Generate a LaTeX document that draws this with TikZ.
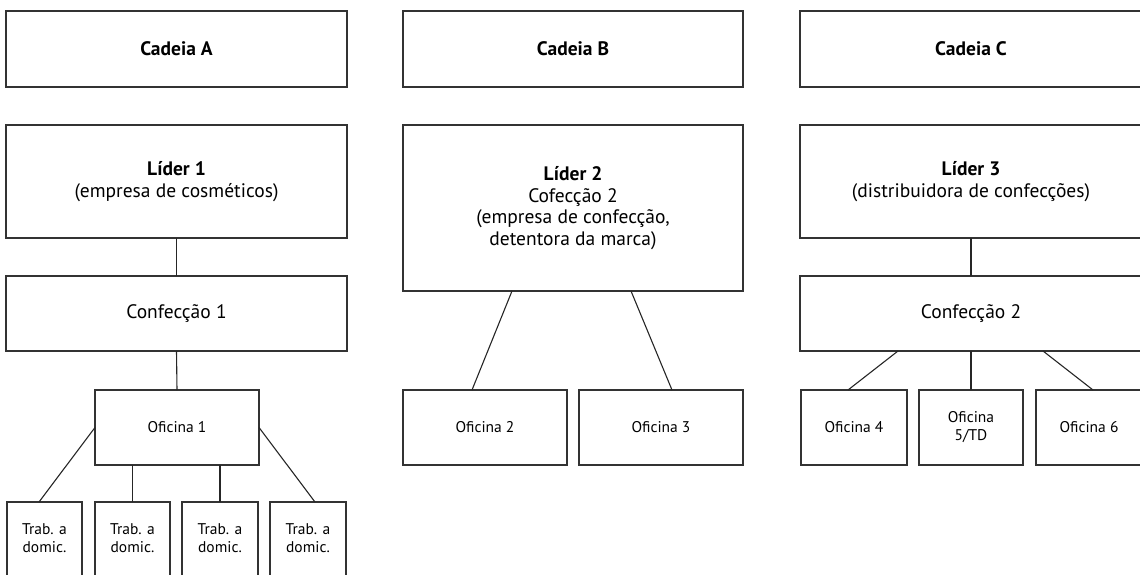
\documentclass[tikz,border=0pt]{standalone}
\usepackage{fontspec}
\setmainfont{PT Sans}
\begin{document}
\begin{tikzpicture}[x=1pt,y=-1pt,
  every node/.style={inner sep=0pt, outer sep=0pt},
  box/.style={draw=black!80, line width=1.3pt, rectangle, align=center,
    font=\fontsize{19.5}{21.5}\selectfont},
  sbox/.style={draw=black!80, line width=1.3pt, rectangle, align=center,
    font=\fontsize{15.5}{18}\selectfont},
  stext/.style={align=center, font=\fontsize{15.5}{18}\selectfont},
  conn/.style={draw=black!85, line width=1.1pt}]
\useasboundingbox (0,0) rectangle (1140,575);
\clip (0,0) rectangle (1140,575);
% Cadeia A
\node[box, minimum width=341, minimum height=76] (cadA) at (176.5,49) {\textbf{Cadeia A}};
\node[box, minimum width=341, minimum height=113] (lidA) at (176.5,181.5) {\textbf{Líder 1}\\(empresa de cosméticos)};
\node[box, minimum width=341, minimum height=75] (confA) at (176.5,313.5) {Confecção 1};
\node[sbox, minimum width=164, minimum height=75] (of1) at (177,427.5) {Oficina 1};
\node[sbox, minimum width=75, minimum height=90, anchor=north] (t1) at (44.5,502) {};
\node[sbox, minimum width=75, minimum height=90, anchor=north] (t2) at (132.5,502) {};
\node[sbox, minimum width=76, minimum height=90, anchor=north] (t3) at (220,502) {};
\node[sbox, minimum width=76, minimum height=90, anchor=north] (t4) at (308,502) {};
\node[stext] (t1l) at (44.5,538) {Trab. a\\domic.};
\node[stext] (t2l) at (132.5,538) {Trab. a\\domic.};
\node[stext] (t3l) at (220,538) {Trab. a\\domic.};
\node[stext] (t4l) at (308,538) {Trab. a\\domic.};
\draw[conn] (lidA.south) -- (confA.north);
\draw[conn] (confA.south) -- (of1.north);
\draw[conn] (of1.west) -- ([xshift=-5.5]t1.north);
\draw[conn] (of1.east) -- ([xshift=7]t4.north);
\draw[conn] (t2.north |- of1.south) -- (t2.north);
\draw[conn] (t3.north |- of1.south) -- (t3.north);
% Cadeia B
\node[box, minimum width=340, minimum height=76] (cadB) at (573,49) {\textbf{Cadeia B}};
\node[box, minimum width=340, minimum height=166] (lidB) at (573,208) {\textbf{Líder 2}\\Cofecção 2\\(empresa de confecção,\\detentora da marca)};
\node[sbox, minimum width=164, minimum height=75] (of2) at (485,427.5) {Oficina 2};
\node[sbox, minimum width=164, minimum height=75] (of3) at (661,427.5) {Oficina 3};
\draw[conn] ([xshift=-61]lidB.south) -- ([xshift=-13]of2.north);
\draw[conn] ([xshift=58]lidB.south) -- ([xshift=11]of3.north);
% Cadeia C
\node[box, minimum width=342, minimum height=76] (cadC) at (971,49) {\textbf{Cadeia C}};
\node[box, minimum width=342, minimum height=113] (lidC) at (971,181.5) {\textbf{Líder 3}\\(distribuidora de confecções)};
\node[box, minimum width=342, minimum height=75] (confC) at (971,313.5) {Confecção 2};
\node[sbox, minimum width=106, minimum height=75] (of4) at (854,427.5) {Oficina 4};
\node[sbox, minimum width=104, minimum height=75] (of5) at (971,427.5) {Oficina\\5/TD};
\node[sbox, minimum width=106, minimum height=75] (of6) at (1089,427.5) {Oficina 6};
\draw[conn] (lidC.south) -- (confC.north);
\draw[conn] ([xshift=-73]confC.south) -- ([xshift=-6]of4.north);
\draw[conn] (confC.south) -- (of5.north);
\draw[conn] ([xshift=72]confC.south) -- ([xshift=4]of6.north);
\end{tikzpicture}
\end{document}
